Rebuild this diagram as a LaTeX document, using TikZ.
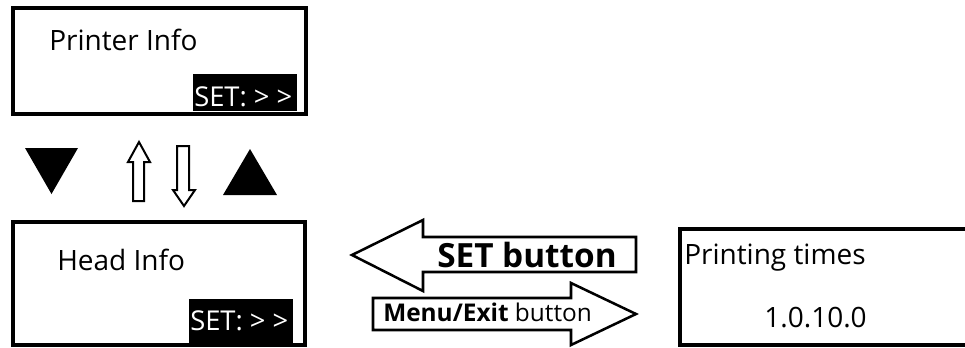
\documentclass[tikz,border=0pt]{standalone}
\usepackage{fontspec}
\setmainfont{Open Sans}
\usetikzlibrary{fit}
\begin{document}
\begin{tikzpicture}[x=0.75pt,y=-0.75pt,
  box/.style={draw, line width=2.6pt, inner sep=0pt},
  blk/.style={fill=black, inner sep=0pt},
  lbl/.style={font=\fontsize{21}{25}\selectfont, inner sep=0pt, anchor=base west},
  wlbl/.style={lbl, font=\fontsize{20.5}{25}\selectfont, text=white},
  small/.style={font=\fontsize{18.3}{22}\selectfont, inner sep=0pt, anchor=base west},
  barrow/.style={draw, line width=1.9pt, line join=miter, fill=white},
  harrow/.style={draw, line width=1.5pt, line join=miter, fill=white},
  tri/.style={fill=black}]
\useasboundingbox (0,0) rectangle (965,347);

% Printer Info screen
\node[box, fit={(13,8)(306,114)}] (printer) {};
\node[blk, fit={(193,74)(297,111)}] (setbg1) {};
\node[lbl] (printerlbl) at (49,50) {Printer Info};
\node[wlbl] (set1) at (194,106) {SET: {>} {>}};

% navigation symbols
\fill[tri] (25,148) -- (78,148) -- (51.5,194) -- cycle;
\fill[tri] (223,195) -- (277,195) -- (250,149) -- cycle;
\draw[harrow] (133,201) -- (133,162) -- (128,162) -- (139,142) -- (150,162) -- (144,162) -- (144,201) -- cycle;
\draw[harrow] (177,146) -- (189,146) -- (189,190) -- (195,190) -- (184,206) -- (173,190) -- (177,190) -- cycle;

% Head Info screen
\node[box, fit={(13,222)(305,345)}] (head) {};
\node[blk, fit={(189,299)(293,344)}] (setbg2) {};
\node[lbl] (headlbl) at (57,270) {Head Info};
\node[wlbl] (set2) at (190,330) {SET: {>} {>}};

% big arrows
\draw[barrow] (636,237) -- (423,237) -- (423,220) -- (352,255) -- (423,291) -- (423,272) -- (636,272) -- cycle;
\node[lbl, font=\fontsize{25}{30}\selectfont\bfseries] (setbtn) at (437,267) {SET button};
\draw[barrow] (373,298) -- (571,298) -- (571,283) -- (636,314) -- (571,345) -- (571,330) -- (373,330) -- cycle;
\node[small] (menubtn) at (383,321) {\textbf{Menu/Exit} button};

% Printing times screen
\node[box, fit={(680,229)(985,345)}] (times) {};
\node[lbl] (timeslbl) at (684,264) {Printing times};
\node[lbl, anchor=base east] (version) at (867,327) {1.0.10.0};
\end{tikzpicture}
\end{document}
